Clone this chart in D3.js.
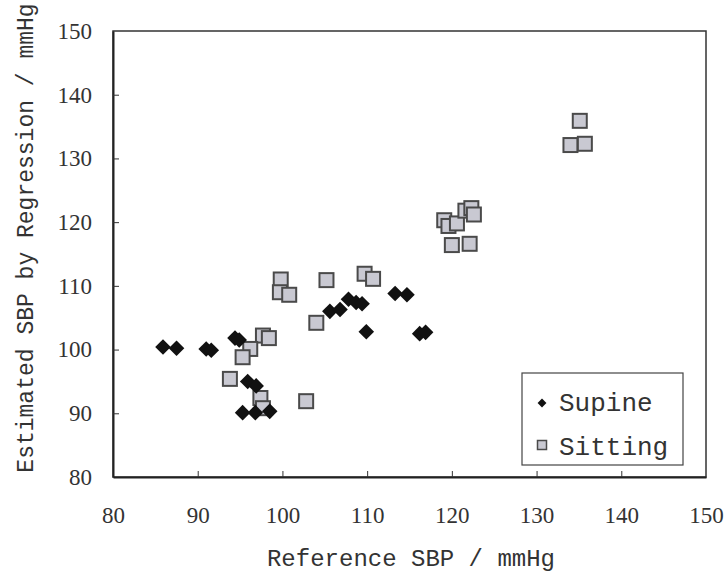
<!DOCTYPE html>
<html>
<head>
<meta charset="utf-8">
<script src="https://cdn.jsdelivr.net/npm/d3@7"></script>
<style>
  body { margin: 0; background: #fff; }
  svg { display: block; }
  .tick text { font-family: "Liberation Serif", "DejaVu Serif", serif; }
</style>
</head>
<body>
<div id="chart"></div>
<script>
// data (reference SBP, estimated SBP) in mmHg
var supineX = [85.9, 87.5, 91.0, 91.6, 94.4, 94.9, 95.9, 96.9, 95.3, 96.8, 98.5,
               105.6, 106.8, 107.8, 108.7, 109.4, 109.9, 113.3, 114.7, 116.2, 116.9];
var supineY = [100.4, 100.2, 100.1, 99.9, 101.8, 101.5, 95.0, 94.3, 90.1, 90.1, 90.3,
               106.0, 106.3, 107.9, 107.4, 107.2, 102.8, 108.8, 108.6, 102.5, 102.7];

var sittingX = [99.8, 99.7, 100.8, 104.0, 97.7, 98.4, 96.2, 95.3, 93.8, 97.4, 97.7, 102.8,
                105.2, 109.7, 110.7,
                135.1, 134.0, 135.7, 119.1, 119.6, 120.6, 121.6, 122.3, 122.6, 120.0, 122.1];
var sittingY = [111.0, 109.0, 108.6, 104.2, 102.2, 101.8, 100.1, 98.8, 95.4, 92.4, 90.8, 91.9,
                110.9, 111.9, 111.1,
                135.9, 132.1, 132.3, 120.3, 119.4, 119.8, 121.8, 122.2, 121.2, 116.4, 116.6];

var xTicks = [80, 90, 100, 110, 120, 130, 140, 150];
var yTicks = [80, 90, 100, 110, 120, 130, 140, 150];
var seriesNames = ["Supine", "Sitting"];

var width = 728, height = 581;
var margin = {top: 31, right: 22, bottom: 104, left: 113};

var svg = d3.select("#chart").append("svg")
    .attr("width", width)
    .attr("height", height);

var x = d3.scaleLinear().domain([80, 150]).range([margin.left, width - margin.right]);
var y = d3.scaleLinear().domain([80, 150]).range([height - margin.bottom, margin.top]);

var serif = "Liberation Serif, DejaVu Serif, serif";
var mono = "Liberation Mono, DejaVu Sans Mono, monospace";

// plot frame
svg.append("rect")
    .attr("x", x(80)).attr("y", y(150))
    .attr("width", x(150) - x(80)).attr("height", y(80) - y(150))
    .attr("fill", "none").attr("stroke", "#333").attr("stroke-width", 1.5);

// axes, ticks pointing inward
var xAxis = svg.append("g")
    .attr("transform", "translate(0," + y(80) + ")")
    .call(d3.axisBottom(x).tickValues(xTicks).tickSizeInner(-6).tickSizeOuter(0).tickPadding(30));
var yAxis = svg.append("g")
    .attr("transform", "translate(" + x(80) + ",0)")
    .call(d3.axisLeft(y).tickValues(yTicks).tickSizeInner(-6).tickSizeOuter(0).tickPadding(21));

[xAxis, yAxis].forEach(function(g) {
    g.attr("font-family", serif).attr("font-size", 23);
    g.select(".domain").attr("stroke", "#222").attr("stroke-width", 2);
    g.selectAll(".tick line").attr("stroke", "#333");
    g.selectAll(".tick text").attr("fill", "#333");
});
// drop end ticks that sit on the frame
xAxis.selectAll(".tick").filter(function(d) { return d === 80 || d === 150; }).select("line").remove();
yAxis.selectAll(".tick").filter(function(d) { return d === 80 || d === 150; }).select("line").remove();

// axis titles
svg.append("text")
    .attr("x", 411).attr("y", 566)
    .attr("text-anchor", "middle")
    .attr("fill", "#333")
    .attr("font-family", mono).attr("font-size", 24)
    .text("Reference SBP / mmHg");

svg.append("text")
    .attr("transform", "translate(33,238) rotate(-90)")
    .attr("text-anchor", "middle")
    .attr("fill", "#333")
    .attr("font-family", mono).attr("font-size", 23)
    .text("Estimated SBP by Regression / mmHg");

// points
var diamond = d3.symbol().type(d3.symbolDiamond2).size(155);

svg.append("g").selectAll("rect")
    .data(d3.range(sittingX.length))
    .enter().append("rect")
    .attr("x", function(i) { return x(sittingX[i]) - 7; })
    .attr("y", function(i) { return y(sittingY[i]) - 7; })
    .attr("width", 14).attr("height", 14)
    .attr("fill", "#c9c9d2")
    .attr("stroke", "#4a4a4a").attr("stroke-width", 2);

svg.append("g").selectAll("path")
    .data(d3.range(supineX.length))
    .enter().append("path")
    .attr("d", diamond)
    .attr("transform", function(i) { return "translate(" + x(supineX[i]) + "," + y(supineY[i]) + ")"; })
    .attr("fill", "#111");

// legend
var legend = svg.append("g");
legend.append("rect")
    .attr("x", 522).attr("y", 373).attr("width", 161).attr("height", 92)
    .attr("fill", "#fff").attr("stroke", "#444").attr("stroke-width", 1.2);

legend.append("path")
    .attr("d", d3.symbol().type(d3.symbolDiamond2).size(50))
    .attr("transform", "translate(542,403)")
    .attr("fill", "#111");
legend.append("rect")
    .attr("x", 537.5).attr("y", 440.5).attr("width", 9).attr("height", 9)
    .attr("fill", "#c9c9d2").attr("stroke", "#4a4a4a").attr("stroke-width", 1.5);

legend.selectAll("text")
    .data(seriesNames)
    .enter().append("text")
    .attr("x", 559)
    .attr("y", function(d, i) { return 411 + i * 44; })
    .attr("fill", "#333")
    .attr("font-family", mono).attr("font-size", 26)
    .text(function(d) { return d; });
</script>
</body>
</html>
